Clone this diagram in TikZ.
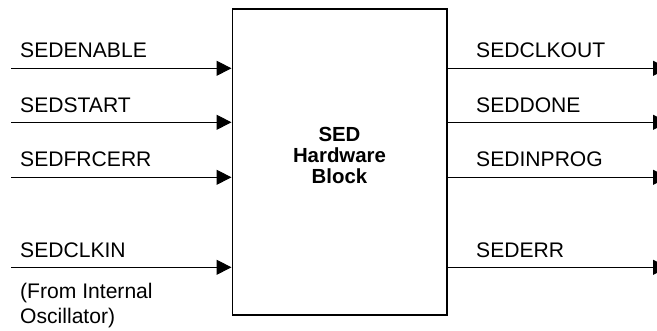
\documentclass[tikz,border=0pt]{standalone}
\usepackage{fontspec}
\setmainfont{Liberation Sans}
\usetikzlibrary{arrows.meta}
\begin{document}
\begin{tikzpicture}[x=1pt,y=-1pt,
  lbl/.style={anchor=base west,inner sep=0pt,font=\fontsize{21.1}{24}\selectfont},
  sig/.style={line width=1pt,-{Triangle[length=15pt,width=15pt]}},
  blk/.style={draw,line width=1.3pt,minimum width=214.7pt,minimum height=306pt,inner sep=0pt}]
\useasboundingbox (0,0) rectangle (657,330);
\node[blk] (box) at (339.5,162) {};
\node[inner sep=0pt,align=center,font=\fontsize{20.4}{21.2}\selectfont\bfseries] (title) at (339.5,155.5) {SED\\Hardware\\Block};
% inputs
\coordinate (a1) at (11,68.3);
\coordinate (a2) at (11,122.3);
\coordinate (a3) at (11,177.3);
\coordinate (a4) at (11,267.3);
\foreach \c in {a1,a2,a3,a4} \draw[sig] (\c) -- (\c -| box.west);
\node[lbl] (l1) at (20,57.6) {SEDENABLE};
\node[lbl] (l2) at (20,112) {SEDSTART};
\node[lbl] (l3) at (20,166.5) {SEDFRCERR};
\node[lbl] (l4) at (20,257) {SEDCLKIN};
\node[lbl] (l5) at (20,298) {(From Internal};
\node[lbl] (l6) at (20,323) {Oscillator)};
% outputs
\coordinate (b1) at (668,68.3);
\coordinate (b2) at (668,122.3);
\coordinate (b3) at (668,177.3);
\coordinate (b4) at (668,267.3);
\foreach \c in {b1,b2,b3,b4} \draw[sig] (\c -| box.east) -- (\c);
\node[lbl] (r1) at (476,57.6) {SEDCLKOUT};
\node[lbl] (r2) at (476,112) {SEDDONE};
\node[lbl] (r3) at (476,166.5) {SEDINPROG};
\node[lbl] (r4) at (476,257) {SEDERR};
\end{tikzpicture}
\end{document}
